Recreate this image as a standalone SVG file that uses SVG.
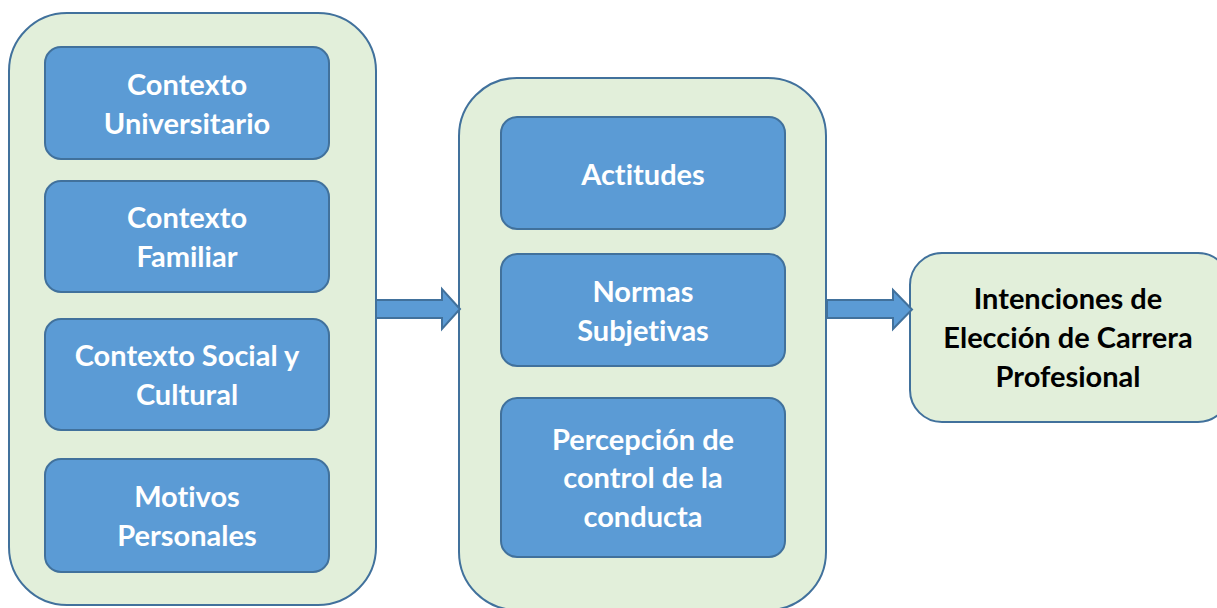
<svg xmlns="http://www.w3.org/2000/svg" width="1217" height="608" viewBox="0 0 1217 608">
<style>
.outer{fill:#E2EFDA;stroke:#41719C;stroke-width:2}
.inner{fill:#5B9BD5;stroke:#41719C;stroke-width:2}
.arrow{fill:#5B9BD5;stroke:#41719C;stroke-width:2;stroke-linejoin:miter}
text{font-family:Lato,"Open Sans","Liberation Sans",sans-serif;font-weight:bold;font-size:29px;text-anchor:middle;font-variant-ligatures:none;font-feature-settings:"liga" 0}
.w{fill:#FFFFFF}
.k{fill:#000000}
</style>
<rect width="1217" height="608" fill="#FFFFFF"/>
<g id="grupo-contextos">
<rect class="outer" x="9" y="13" width="367" height="592" rx="58" ry="58"/>
</g>
<g id="contexto-universitario">
<rect class="inner" x="45" y="47" width="284" height="112" rx="16" ry="16"/>
<text class="w" x="187" y="95">Contexto</text>
<text class="w" x="187" y="134">Universitario</text>
</g>
<g id="contexto-familiar">
<rect class="inner" x="45" y="181" width="284" height="111" rx="16" ry="16"/>
<text class="w" x="187" y="228">Contexto</text>
<text class="w" x="187" y="267">Familiar</text>
</g>
<g id="contexto-social">
<rect class="inner" x="45" y="319" width="284" height="111" rx="16" ry="16"/>
<text class="w" x="187" y="366">Contexto Social y</text>
<text class="w" x="187" y="405">Cultural</text>
</g>
<g id="motivos-personales">
<rect class="inner" x="45" y="459" width="284" height="113" rx="16" ry="16"/>
<text class="w" x="187" y="507">Motivos</text>
<text class="w" x="187" y="546">Personales</text>
</g>
<g id="grupo-determinantes">
<rect class="outer" x="459" y="78" width="367" height="532" rx="58" ry="58"/>
</g>
<g id="actitudes">
<rect class="inner" x="501" y="117" width="284" height="112" rx="16" ry="16"/>
<text class="w" x="643" y="185">Actitudes</text>
</g>
<g id="normas-subjetivas">
<rect class="inner" x="501" y="254" width="284" height="112" rx="16" ry="16"/>
<text class="w" x="643" y="302">Normas</text>
<text class="w" x="643" y="341">Subjetivas</text>
</g>
<g id="percepcion-control">
<rect class="inner" x="501" y="398" width="284" height="159" rx="16" ry="16"/>
<text class="w" x="643" y="450">Percepción de</text>
<text class="w" x="643" y="488">control de la</text>
<text class="w" x="643" y="527">conducta</text>
</g>
<g id="intenciones">
<rect class="outer" x="910" y="253" width="320" height="169" rx="32" ry="32"/>
<text class="k" x="1068" y="309">Intenciones de</text>
<text class="k" x="1068" y="348">Elección de Carrera</text>
<text class="k" x="1068" y="387">Profesional</text>
</g>
<g id="conectores">
<path class="arrow" d="M376,300 H442 V289 L460,309 L442,329 V318 H376 Z"/>
<path class="arrow" d="M827,300 H893 V290 L912,309.5 L893,329 V318 H827 Z"/>
</g>
</svg>
